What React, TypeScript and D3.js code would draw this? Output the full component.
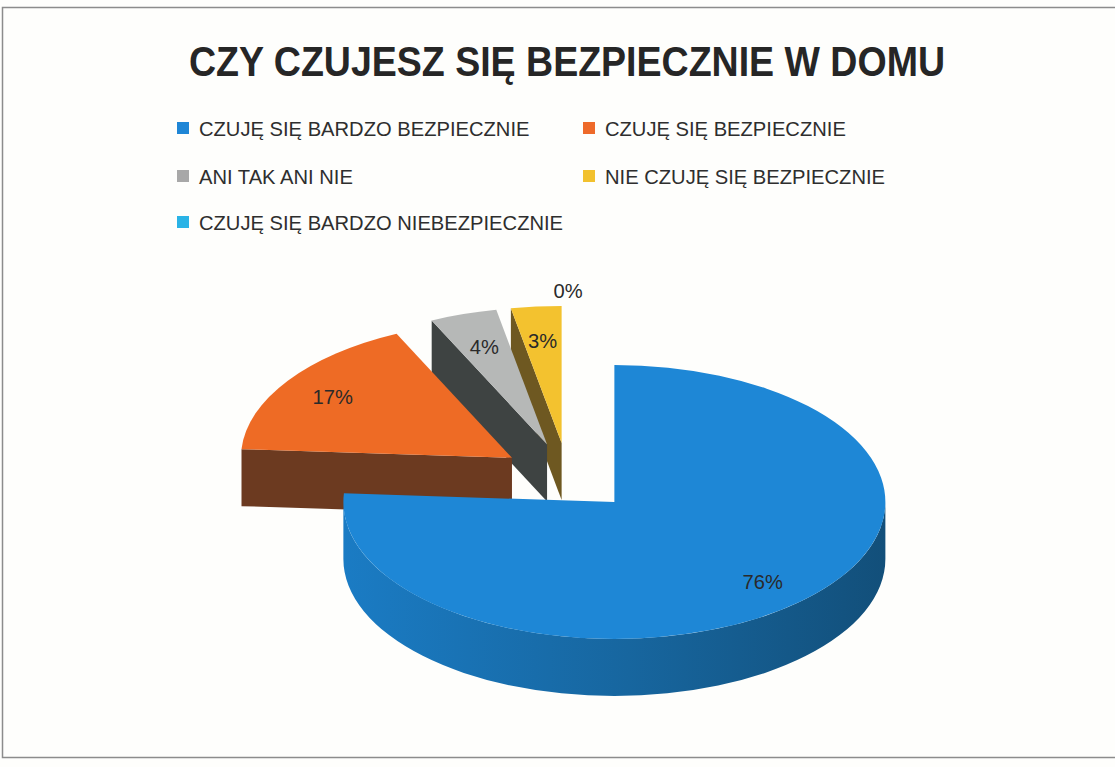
import React, { useEffect, useRef } from 'react';
import * as d3 from 'd3';

const title = 'CZY CZUJESZ SIĘ BEZPIECZNIE W DOMU';
const categories = [
  'CZUJĘ SIĘ BARDZO BEZPIECZNIE',
  'CZUJĘ SIĘ BEZPIECZNIE',
  'ANI TAK ANI NIE',
  'NIE CZUJĘ SIĘ BEZPIECZNIE',
  'CZUJĘ SIĘ BARDZO NIEBEZPIECZNIE',
];
const values = [76, 17, 4, 3, 0];
const labels = ['76%', '17%', '4%', '3%', '0%'];

const topColors = ['#1e87d6', '#ee6b25', '#b6b8b7', '#f3c22f', '#2ab2e4'];
const sideColors = ['#15609a', '#6c3a20', '#3e4342', '#6e5821', '#1a7aa0'];
const legendColors = ['#1f86d6', '#ee6a2a', '#a8a8a8', '#f2c12e', '#2ab3e6'];
const labelRadius = [0.8, 0.8, 0.75, 0.75, 1.11];

const W = 1115;
const H = 767;

export default function App() {
  const svgRef = useRef<SVGSVGElement>(null);

  useEffect(() => {
    document.body.style.margin = '0';
    if (!svgRef.current) return;
    const svg = d3.select(svgRef.current);
    svg.selectAll('*').remove();

    const font = "'Liberation Sans', Arial, sans-serif";

    svg.append('rect').attr('width', W).attr('height', H).attr('fill', '#fefefc');
    svg.append('rect')
      .attr('x', 2.5).attr('y', 7.5).attr('width', W + 10).attr('height', 750)
      .attr('fill', 'none').attr('stroke', '#8c8c8c').attr('stroke-width', 1.5);

    // title
    svg.append('text')
      .attr('x', 567).attr('y', 76)
      .attr('text-anchor', 'middle')
      .attr('font-family', font).attr('font-weight', 'bold').attr('font-size', 42)
      .attr('fill', '#262626')
      .attr('textLength', 756).attr('lengthAdjust', 'spacingAndGlyphs')
      .text(title);

    // legend
    const legendX = [177, 583];
    const legendY = [128, 176, 222];
    const leg = svg.append('g');
    categories.forEach((c, i) => {
      const x = legendX[i % 2];
      const y = legendY[Math.floor(i / 2)];
      leg.append('rect').attr('x', x).attr('y', y - 6).attr('width', 12).attr('height', 12)
        .attr('fill', legendColors[i]);
      const t = leg.append('text')
        .attr('x', x + 22).attr('y', y)
        .attr('dominant-baseline', 'central')
        .attr('font-family', font).attr('font-size', 21)
        .attr('fill', '#2e2e2e')
        .text(c);
      const len = (t.node() as SVGTextElement).getComputedTextLength();
      t.attr('textLength', len * 0.96).attr('lengthAdjust', 'spacingAndGlyphs');
    });

    // 3D exploded pie
    const cx = 568, cy = 477, rx = 271, ry = 137, depth = 57, explode = 0.25;
    const arcs = d3.pie<number>().sort(null).startAngle(0).endAngle(2 * Math.PI)(values);

    const pt = (ox: number, oy: number, a: number, r: number, z: number): [number, number] =>
      [ox + r * rx * Math.sin(a), oy - r * ry * Math.cos(a) + z * depth];

    const slices = arcs.map((a, i) => {
      const mid = (a.startAngle + a.endAngle) / 2;
      const [ox, oy] = pt(cx, cy, mid, explode, 0);
      return { a, i, mid, ox, oy };
    });

    const defs = svg.append('defs');
    const grad = defs.append('linearGradient').attr('id', 'blueSide')
      .attr('gradientUnits', 'userSpaceOnUse')
      .attr('x1', cx - rx).attr('x2', cx + rx + 60).attr('y1', 0).attr('y2', 0);
    grad.append('stop').attr('offset', '0%').attr('stop-color', '#1b7fca');
    grad.append('stop').attr('offset', '55%').attr('stop-color', '#17669f');
    grad.append('stop').attr('offset', '100%').attr('stop-color', '#124e78');

    const pieG = svg.append('g');
    const order = [...slices].sort((p, q) => p.oy - q.oy);
    order.forEach(({ a, i, ox, oy }) => {
      const a1 = a.startAngle, a2 = a.endAngle;
      if (a2 - a1 <= 0) return;
      const g = pieG.append('g');
      const side = i === 0 ? 'url(#blueSide)' : sideColors[i];

      // radial faces
      const radial = (ang: number) => {
        const p1 = [ox, oy], p2 = pt(ox, oy, ang, 1, 0), p3 = pt(ox, oy, ang, 1, 1), p4 = [ox, oy + depth];
        g.append('path').attr('d', `M${p1}L${p2}L${p3}L${p4}Z`).attr('fill', sideColors[i]);
      };
      if (Math.sin(a1) < -1e-6) radial(a1);
      if (Math.sin(a2) > 1e-6) radial(a2);

      // outer curved side (front-facing part)
      const s = Math.max(a1, Math.PI / 2), e = Math.min(a2, 1.5 * Math.PI);
      if (e > s) {
        const t1 = pt(ox, oy, s, 1, 0), t2 = pt(ox, oy, e, 1, 0);
        const b2 = pt(ox, oy, e, 1, 1), b1 = pt(ox, oy, s, 1, 1);
        g.append('path')
          .attr('d', `M${t1}A${rx},${ry} 0 0 1 ${t2}L${b2}A${rx},${ry} 0 0 0 ${b1}Z`)
          .attr('fill', side);
      }

      // top face
      const p1 = pt(ox, oy, a1, 1, 0), p2 = pt(ox, oy, a2, 1, 0);
      const large = a2 - a1 > Math.PI ? 1 : 0;
      g.append('path')
        .attr('d', `M${ox},${oy}L${p1}A${rx},${ry} 0 ${large} 1 ${p2}Z`)
        .attr('fill', topColors[i]);
    });

    // data labels
    slices.forEach(({ i, mid, ox, oy }) => {
      const [lx, ly] = pt(ox, oy, mid, labelRadius[i], 0);
      const t = pieG.append('text')
        .attr('x', lx).attr('y', ly)
        .attr('text-anchor', 'middle').attr('dominant-baseline', 'central')
        .attr('font-family', font).attr('font-size', 21)
        .attr('fill', '#2a2a2a')
        .text(labels[i]);
      const len = (t.node() as SVGTextElement).getComputedTextLength();
      t.attr('textLength', len * 0.96).attr('lengthAdjust', 'spacingAndGlyphs');
    });
  }, []);

  return <svg ref={svgRef} width={W} height={H} style={{ display: 'block' }} />;
}
